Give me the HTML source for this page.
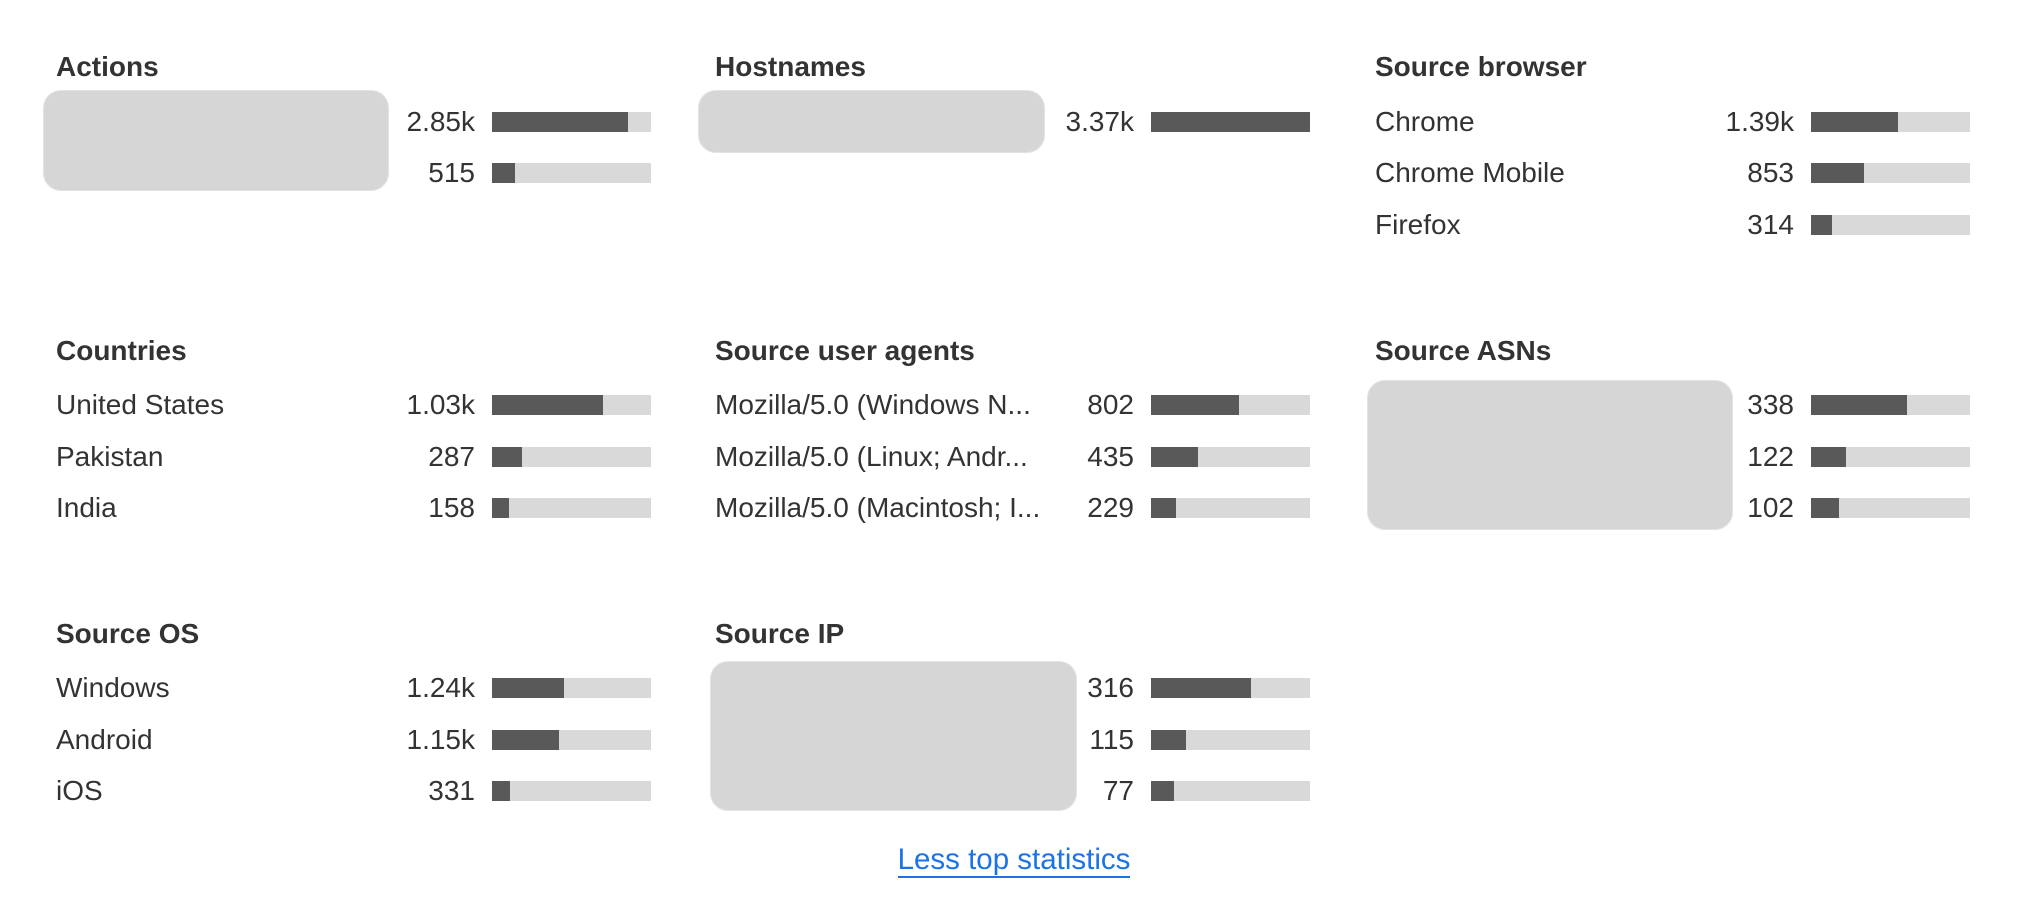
<!DOCTYPE html>
<html><head><meta charset="utf-8"><style>
body{margin:0;width:2028px;height:904px;background:#fff;position:relative;overflow:hidden;font-family:"Liberation Sans",sans-serif;color:#333}
.t{position:absolute;height:30px;line-height:30px;font-size:28px;white-space:nowrap}
.h{font-weight:bold;font-size:28px;color:#333}
.n{text-align:right;width:120px}
.tr{position:absolute;height:20px;width:159px;background:#d9d9d9}
.f{height:20px;background:#595959}
.ph{position:absolute;background:#d6d6d6;border:1px solid #e3e3e3;border-radius:18px;box-sizing:border-box}
.lk{position:absolute;left:0;width:2028px;text-align:center;top:844px;font-size:29.5px;line-height:32px}
.lk span{color:#1a73e8;border-bottom:2px solid #1a73e8}
</style></head><body>
<div class="t h" style="left:56px;top:52px">Actions</div>
<div class="t h" style="left:715px;top:52px">Hostnames</div>
<div class="t h" style="left:1375px;top:52px">Source browser</div>
<div class="t h" style="left:56px;top:336px">Countries</div>
<div class="t h" style="left:715px;top:336px">Source user agents</div>
<div class="t h" style="left:1375px;top:336px">Source ASNs</div>
<div class="t h" style="left:56px;top:619px">Source OS</div>
<div class="t h" style="left:715px;top:619px">Source IP</div>
<div class="ph" style="left:43px;top:90px;width:346px;height:101px"></div>
<div class="ph" style="left:698px;top:90px;width:347px;height:63px"></div>
<div class="ph" style="left:1367px;top:380px;width:366px;height:150px"></div>
<div class="ph" style="left:710px;top:661px;width:367px;height:150px"></div>
<div class="t n" style="left:355px;top:107px">2.85k</div><div class="tr" style="left:492px;top:112px"><div class="f" style="width:136px"></div></div>
<div class="t n" style="left:355px;top:158px">515</div><div class="tr" style="left:492px;top:163px"><div class="f" style="width:23px"></div></div>
<div class="t n" style="left:1014px;top:107px">3.37k</div><div class="tr" style="left:1151px;top:112px"><div class="f" style="width:159px"></div></div>
<div class="t" style="left:1375px;top:107px">Chrome</div><div class="t n" style="left:1674px;top:107px">1.39k</div><div class="tr" style="left:1811px;top:112px"><div class="f" style="width:87px"></div></div>
<div class="t" style="left:1375px;top:158px">Chrome Mobile</div><div class="t n" style="left:1674px;top:158px">853</div><div class="tr" style="left:1811px;top:163px"><div class="f" style="width:53px"></div></div>
<div class="t" style="left:1375px;top:210px">Firefox</div><div class="t n" style="left:1674px;top:210px">314</div><div class="tr" style="left:1811px;top:215px"><div class="f" style="width:21px"></div></div>
<div class="t" style="left:56px;top:390px">United States</div><div class="t n" style="left:355px;top:390px">1.03k</div><div class="tr" style="left:492px;top:395px"><div class="f" style="width:111px"></div></div>
<div class="t" style="left:56px;top:442px">Pakistan</div><div class="t n" style="left:355px;top:442px">287</div><div class="tr" style="left:492px;top:447px"><div class="f" style="width:30px"></div></div>
<div class="t" style="left:56px;top:493px">India</div><div class="t n" style="left:355px;top:493px">158</div><div class="tr" style="left:492px;top:498px"><div class="f" style="width:17px"></div></div>
<div class="t" style="left:715px;top:390px">Mozilla/5.0 (Windows N...</div><div class="t n" style="left:1014px;top:390px">802</div><div class="tr" style="left:1151px;top:395px"><div class="f" style="width:88px"></div></div>
<div class="t" style="left:715px;top:442px">Mozilla/5.0 (Linux; Andr...</div><div class="t n" style="left:1014px;top:442px">435</div><div class="tr" style="left:1151px;top:447px"><div class="f" style="width:47px"></div></div>
<div class="t" style="left:715px;top:493px">Mozilla/5.0 (Macintosh; I...</div><div class="t n" style="left:1014px;top:493px">229</div><div class="tr" style="left:1151px;top:498px"><div class="f" style="width:25px"></div></div>
<div class="t n" style="left:1674px;top:390px">338</div><div class="tr" style="left:1811px;top:395px"><div class="f" style="width:96px"></div></div>
<div class="t n" style="left:1674px;top:442px">122</div><div class="tr" style="left:1811px;top:447px"><div class="f" style="width:35px"></div></div>
<div class="t n" style="left:1674px;top:493px">102</div><div class="tr" style="left:1811px;top:498px"><div class="f" style="width:28px"></div></div>
<div class="t" style="left:56px;top:673px">Windows</div><div class="t n" style="left:355px;top:673px">1.24k</div><div class="tr" style="left:492px;top:678px"><div class="f" style="width:72px"></div></div>
<div class="t" style="left:56px;top:725px">Android</div><div class="t n" style="left:355px;top:725px">1.15k</div><div class="tr" style="left:492px;top:730px"><div class="f" style="width:67px"></div></div>
<div class="t" style="left:56px;top:776px">iOS</div><div class="t n" style="left:355px;top:776px">331</div><div class="tr" style="left:492px;top:781px"><div class="f" style="width:18px"></div></div>
<div class="t n" style="left:1014px;top:673px">316</div><div class="tr" style="left:1151px;top:678px"><div class="f" style="width:100px"></div></div>
<div class="t n" style="left:1014px;top:725px">115</div><div class="tr" style="left:1151px;top:730px"><div class="f" style="width:35px"></div></div>
<div class="t n" style="left:1014px;top:776px">77</div><div class="tr" style="left:1151px;top:781px"><div class="f" style="width:23px"></div></div>
<div class="lk"><span>Less top statistics</span></div>
</body></html>
